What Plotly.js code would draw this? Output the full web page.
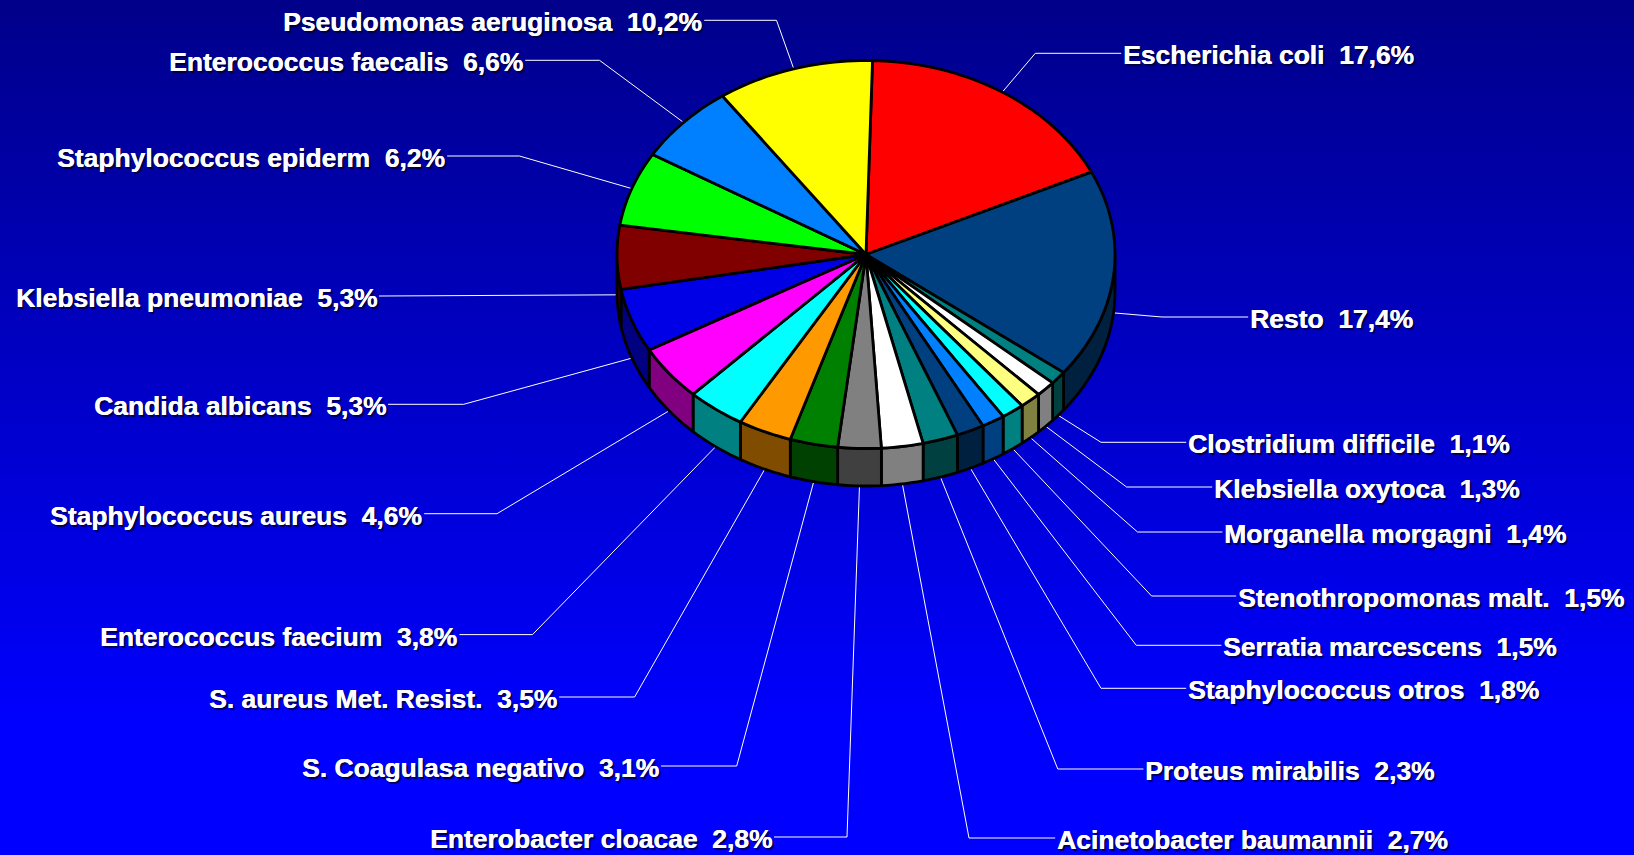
<!DOCTYPE html>
<html>
<head>
<meta charset="utf-8">
<script src="https://cdn.plot.ly/plotly-3.0.1.min.js"></script>
<style>
html,body{margin:0;padding:0;width:1634px;height:855px;overflow:hidden;background:linear-gradient(180deg,#00008a 0%,#0000ff 85%,#0000ff 100%);}
#chart{width:1634px;height:855px;}
</style>
</head>
<body>
<div id="chart"></div>
<script>
// ---- data ----
var categories = ["Escherichia coli","Resto","Clostridium difficile","Klebsiella oxytoca","Morganella morgagni","Stenothropomonas malt.","Serratia marcescens","Staphylococcus otros","Proteus mirabilis","Acinetobacter baumannii","Enterobacter cloacae","S. Coagulasa negativo","S. aureus Met. Resist.","Enterococcus faecium","Staphylococcus aureus","Candida albicans","Klebsiella pneumoniae","Staphylococcus epiderm","Enterococcus faecalis","Pseudomonas aeruginosa"];
var values = [17.6,17.4,1.1,1.3,1.4,1.5,1.5,1.8,2.3,2.7,2.8,3.1,3.5,3.8,4.6,5.3,5.3,6.2,6.6,10.2];
var topColors = ["#ff0000","#004080","#008080","#ffffff","#ffff80","#00ffff","#0080ff","#004080","#008080","#ffffff","#808080","#008000","#ff9900","#00ffff","#ff00ff","#0000e6","#800000","#00ff00","#0080ff","#ffff00"];
var sideColors = ["#800000","#002040","#004040","#808080","#808040","#008080","#004080","#002040","#004040","#808080","#404040","#004000","#804c00","#008080","#800080","#000080","#400000","#008000","#004080","#808000"];

// ---- layout of the pie and labels (pixel-scaled axes) ----
var CX = 866, CY = 254.5, RX = 249, RY = 194, DEPTH = 37.5, START_DEG = 1.5;
var elbowX = [1035.3,1162,1101,1126.6,1137.5,1151.6,1136.3,1101,1057.8,969,847,736.7,634.6,532.5,497,463.7,null,519.4,599.5,776.5];
var lineY  = [53.3,317,442.3,487,532,596,645.3,688.3,769,838,837,766,697,634.6,513.7,404.3,296,156,60.3,20.3];
var textX  = [1121.2,1248.2,1186.2,1212.2,1222.4,1236.2,1221.4,1186.2,1143.4,1055.2,774,661,559.2,459.4,424.2,388,379,447.2,525.2,704.2];
var textSide = ["l","l","l","l","l","l","l","l","l","l","r","r","r","r","r","r","r","r","r","r"];
var FONT_SIZE = 26.45;

function pt(deg, dy){
  var a = deg*Math.PI/180;
  return [CX + RX*Math.sin(a), CY - RY*Math.cos(a) + (dy||0)];
}
function arc(a0, a1, dy){
  var n = Math.max(2, Math.ceil(Math.abs(a1-a0)/1.5)), out = [];
  for (var i=0;i<=n;i++) out.push(pt(a0+(a1-a0)*i/n, dy));
  return out;
}
function polyTrace(points, fill){
  return {type:"scatter", mode:"lines", x:points.map(function(p){return p[0];}), y:points.map(function(p){return p[1];}),
    fill:"toself", fillcolor:fill, line:{color:"#000000",width:2.8,simplify:false}, hoverinfo:"skip", showlegend:false};
}

var total = values.reduce(function(a,b){return a+b;},0);
var traces = [], annotations = [], sides = [], tops = [], leaders = [];
var cum = 0;
values.forEach(function(v,i){
  var a0 = START_DEG + cum/total*360;
  var a1 = START_DEG + (cum+v)/total*360;
  var mid = (a0+a1)/2;
  cum += v;
  // leader
  var s = pt(mid, Math.cos(mid*Math.PI/180)<0 ? DEPTH : 0);
  var lx = [s[0]], ly = [s[1]];
  if (elbowX[i]!==null){ lx.push(elbowX[i]); ly.push(lineY[i]); }
  lx.push(textX[i]); ly.push(lineY[i]);
  leaders.push({type:"scatter",mode:"lines",x:lx,y:ly,line:{color:"#ffffff",width:1,simplify:false},hoverinfo:"skip",showlegend:false});
  // side wall: only the part facing the viewer
  var b0 = Math.max(a0,90), b1 = Math.min(a1,270);
  if (b1>b0){
    var up = arc(b0,b1,0), down = arc(b1,b0,DEPTH);
    sides.push(polyTrace(up.concat(down,[up[0]]), sideColors[i]));
  }
  // top face
  tops.push(polyTrace([[CX,CY]].concat(arc(a0,a1,0),[[CX,CY]]), topColors[i]));
  // label
  annotations.push({xref:"x",yref:"y",x:textX[i],y:lineY[i]+2,
    xanchor:textSide[i]==="l"?"left":"right",yanchor:"middle",showarrow:false,
    text:categories[i]+"\u00a0\u00a0"+v.toFixed(1).replace(".",",")+"%",
    font:{family:"Liberation Sans, Arial, sans-serif",size:FONT_SIZE,color:"#ffffff",weight:700,shadow:"0.4px 0 0 #ffffff, 2px 2px 1px rgba(0,0,40,0.8)"}});
});
traces = leaders.concat(sides,tops);

Plotly.newPlot("chart",traces,{
  width:1634,height:855,margin:{l:0,r:0,t:0,b:0},
  paper_bgcolor:"rgba(0,0,0,0)",plot_bgcolor:"rgba(0,0,0,0)",showlegend:false,
  xaxis:{range:[0,1634],visible:false,fixedrange:true},
  yaxis:{range:[855,0],visible:false,fixedrange:true},
  annotations:annotations
},{displayModeBar:false,staticPlot:true});
</script>
</body>
</html>
